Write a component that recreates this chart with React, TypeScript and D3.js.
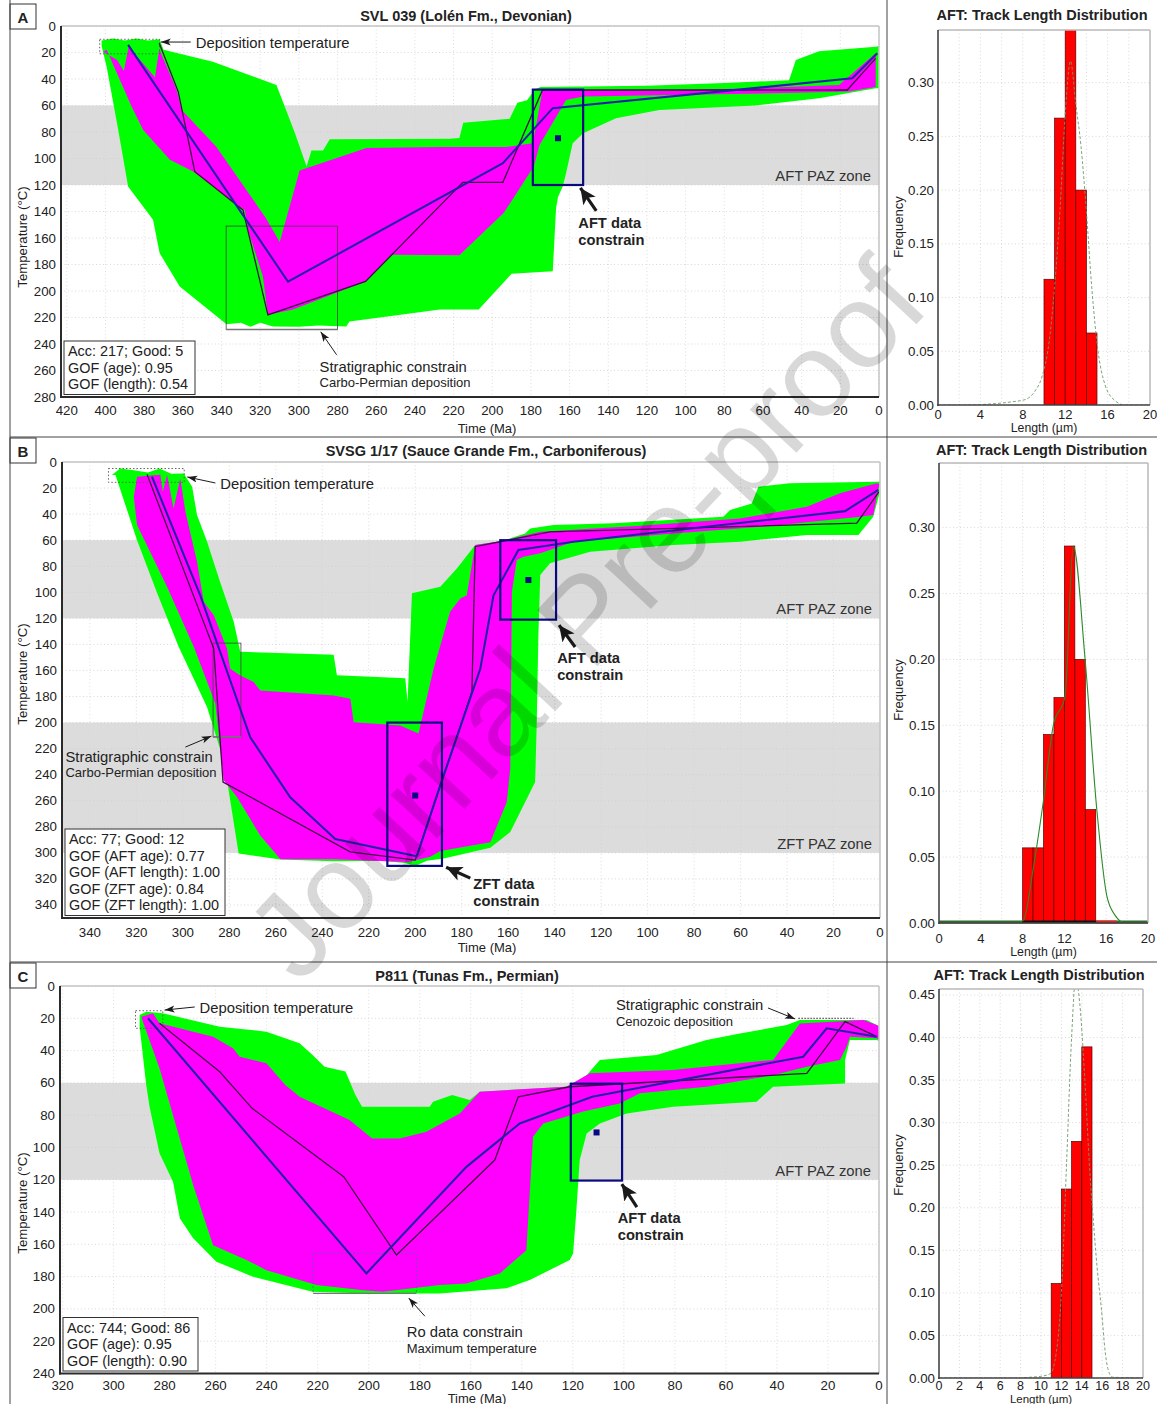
import React from "react";
import * as d3 from "d3";

type Pt = [number, number];
type Box = [number, number, number, number]; // t-left, t-right, T-top, T-bottom

const FONT = "'Liberation Sans', Arial, Helvetica, sans-serif";

// ================= Panel A : SVL 039 =================
const timeTicksA = [420, 400, 380, 360, 340, 320, 300, 280, 260, 240, 220, 200, 180, 160, 140, 120, 100, 80, 60, 40, 20, 0];
const tempTicksA = [0, 20, 40, 60, 80, 100, 120, 140, 160, 180, 200, 220, 240, 260, 280];
const greenA: Pt[] = [
  [402, 11], [396, 9.5], [390, 11], [384, 9.5], [378, 11], [372, 10], [370, 18], [344.5, 27], [311.6, 44.5],
  [302, 81], [296, 106], [293.5, 94], [287.5, 94], [284, 85.5], [222, 85], [217, 84.6], [215, 73],
  [191, 70], [187, 58], [182, 56], [178, 48], [175, 46], [120, 45], [80, 43], [46.5, 41], [43, 25.6],
  [31, 19], [1.7, 15.6], [0, 15],
  [0, 47], [1.7, 47], [31, 54.6], [63.7, 60], [113.6, 63.4], [136, 69.6], [153, 81], [158.4, 88.5],
  [161.8, 111], [163.5, 121], [166, 129], [167, 137.5], [168.7, 185], [190, 187], [207, 214], [227, 214],
  [273.8, 223], [275.5, 226.7], [290, 226], [300, 227], [313.4, 226.7], [320, 224], [325, 227], [330, 224],
  [337.4, 225], [361.6, 196.6], [372, 171.4], [375.4, 146.3], [388.3, 121.2], [393.4, 78.4],
  [399.4, 30.7], [402, 15],
];
const magentaA: Pt[] = [
  [401.2, 19.4], [394, 25.6], [390.5, 33.7], [388, 15.6], [374.4, 38.7], [372.2, 17.6], [363.3, 48],
  [360.7, 63.3], [342.8, 91], [317, 145], [309.9, 163], [299.6, 109], [265, 92], [227, 91.4], [193, 91.4],
  [179, 88.5], [174, 48.3], [106.7, 48.8], [51.7, 46.2], [20.7, 44.5], [1.7, 20.6],
  [1.7, 46], [15.5, 49.5], [55, 50.8], [153, 53.3], [161.8, 55.8], [175.6, 90], [178.5, 106], [194, 141],
  [217, 173], [252.3, 172.7], [265.5, 192.8], [303, 214], [316, 218], [318.6, 189], [326.3, 153.8],
  [328, 138.8], [354.7, 109.9], [366.7, 101], [380.5, 78.4], [386.5, 60.8], [399.4, 18],
];
const bestA: Pt[] = [[388.3, 14.3], [305.6, 193], [194.5, 103.5], [168.7, 62], [13.8, 39.5], [0.9, 20.6]];
const thinA: Pt[] = [
  [372.2, 13], [362.4, 49.5], [353.8, 110], [328.9, 138.8], [316, 218], [265.5, 192.8], [215.2, 118],
  [194.5, 118], [174, 48.3], [16.4, 48.3], [1.7, 24.4],
];
const aftBoxA: Box = [179, 153, 48, 120];
const aftPointA: Pt = [166, 84.7];
const depBoxA: Box = [403, 372, 10, 21];
const stratBoxA: Box = [337.6, 280, 151, 229];
const infoA = ["Acc: 217; Good: 5", "GOF (age): 0.95", "GOF (length): 0.54"];

// ================= Panel B : SVSG 1/17 =================
const timeTicksB = [340, 320, 300, 280, 260, 240, 220, 200, 180, 160, 140, 120, 100, 80, 60, 40, 20, 0];
const tempTicksB = [0, 20, 40, 60, 80, 100, 120, 140, 160, 180, 200, 220, 240, 260, 280, 300, 320, 340];
const greenB: Pt[] = [
  [330.5, 10], [327, 5], [321.8, 6.1], [315, 8], [310, 5], [305, 9], [299.6, 8.8], [296, 19], [293.9, 40.7],
  [289.6, 61], [284, 92], [278.1, 122.6], [275.3, 145.7], [235.1, 148], [233.7, 163.6], [204.3, 166],
  [203.3, 184], [201.4, 100.8], [189.2, 95.8], [182, 81.6], [174.2, 63.7], [162.7, 60.7], [152.7, 54.8],
  [150.5, 51], [140.5, 48.4], [114.7, 47], [67.4, 42], [64.5, 36.9], [55.2, 31.8], [52.3, 19], [38.7, 16.4],
  [1.4, 15.2], [0, 15],
  [0.4, 25.3], [2.9, 42], [9.3, 56], [31.5, 56], [60.2, 61.2], [88.9, 63.7], [124.7, 68.8], [142, 77.8],
  [146.2, 86.7], [147, 132.9], [147.7, 199.5], [148.4, 245.6], [159.1, 284], [167.7, 296], [187.8, 304.4],
  [195, 306], [200, 310], [204.3, 307.7], [215, 306], [235.1, 306.4], [258, 305.1], [276, 300.5],
  [281, 244], [284, 220], [289.6, 188], [301.8, 141.8], [311, 101], [319.7, 60], [329, 10],
];
const magentaB: Pt[] = [
  [321.1, 26.6], [319.7, 11.3], [309.7, 9.8], [308.6, 22.8], [306.8, 9.8], [304, 35.6], [301.1, 12.6],
  [298.9, 38.2], [293.9, 76.6], [291, 107.3], [286.7, 117.6], [281, 143.2], [279.6, 158.6], [275.3, 163.8],
  [269.5, 168.9], [266.7, 175.3], [235.1, 179.2], [227.9, 181.8], [226.5, 199.7], [206.5, 202.2],
  [198.6, 208.4], [192.1, 158.6], [185, 115], [180.6, 104.8], [177.8, 102.3], [174.2, 63.7], [162.7, 60.7],
  [146.2, 53.6], [103.2, 49], [60.2, 43.4], [31.5, 34.4], [17.2, 24], [1.4, 16.4], [0, 17],
  [0.7, 20.3], [2.9, 40.7], [8.6, 42], [45.9, 49], [88.9, 54.8], [131.9, 61.2], [146.2, 70.1], [153.4, 72.8],
  [156.3, 75.3], [158.4, 99.6], [159.1, 235.4], [160.6, 261], [167.7, 291.8], [189.2, 298.5], [193.5, 303],
  [203, 307], [235, 305], [258, 305], [266.7, 286.7], [276.7, 257.2], [282.4, 244.2], [286, 185.3],
  [295.3, 141.8], [306.8, 95.8], [319.7, 48.4],
];
const bestB: Pt[] = [
  [313.3, 11.3], [292.5, 102.3], [271, 211.3], [253.8, 257.4], [234.4, 289.4], [199.3, 302.7], [189.2, 248],
  [172, 158.7], [166.3, 102.3], [155.6, 67.6], [131.9, 61.2], [15, 37.7], [0.7, 21.4],
];
const thinB: Pt[] = [
  [315.4, 9.5], [286.7, 143.2], [282.7, 245.6], [228, 299.2], [200, 305.6], [175.6, 176.4], [174.2, 65],
  [142, 53.6], [10, 47], [0.4, 22.8],
];
const zftBoxB: Box = [212, 188.5, 200, 310];
const zftPointB: Pt = [200, 256];
const aftBoxB: Box = [163.4, 139.4, 60, 121];
const aftPointB: Pt = [151.3, 90.6];
const depBoxB: Box = [332, 299.4, 5, 15.6];
const stratBoxB: Box = [287, 275, 139, 211];
const infoB = ["Acc: 77; Good: 12", "GOF (AFT age): 0.77", "GOF (AFT length): 1.00", "GOF (ZFT age): 0.84", "GOF (ZFT length): 1.00"];

// ================= Panel C : P811 =================
const timeTicksC = [320, 300, 280, 260, 240, 220, 200, 180, 160, 140, 120, 100, 80, 60, 40, 20, 0];
const tempTicksC = [0, 20, 40, 60, 80, 100, 120, 140, 160, 180, 200, 220, 240];
const greenC: Pt[] = [
  [289.8, 18], [287.2, 15.9], [280.7, 16.9], [258.4, 25.2], [240.1, 28.3], [227.1, 35.5], [222, 42.8],
  [217.3, 50], [209.1, 53], [205.2, 67.5], [202.6, 74.8], [176.1, 74.8], [174.8, 71.7], [167.3, 67.5],
  [160.4, 70.6], [156.5, 65.5],
  [122.5, 62.4], [119.9, 60.4], [114.6, 55.2], [109.4, 45.8], [87.2, 42.8], [67.6, 33.5], [54.5, 29.4],
  [36.2, 24.2], [31, 21.1], [4.8, 21.1], [0.9, 24.2], [0, 25],
  [0, 34], [0.9, 33.5], [11.4, 33.5], [13.3, 45.8], [13.3, 60.4], [41.5, 62.4], [48, 71.7], [80.7, 74.8],
  [98.9, 79], [109.4, 85.1], [114.6, 91.3], [117.3, 107.8], [118.6, 138.8], [119.9, 165.6], [121.2, 169.7],
  [136.9, 182.1], [146, 187.2], [172.2, 190.4], [200.9, 190.4], [222, 189.4], [245.4, 180],
  [259.7, 170.8], [268.8, 156.3], [274, 144], [276.7, 121.2], [282, 103.6], [285.9, 74.8], [287.2, 61.3],
  [289.8, 25.2],
];
const magentaC: Pt[] = [
  [289.1, 19], [284.6, 16.9], [282, 23], [261, 31.4], [253.2, 38.6], [250.6, 43.8], [240.1, 47.9],
  [232.7, 61.3], [227.1, 68.6], [207.5, 83], [198.7, 94.4], [187.8, 94.4], [177.4, 90.3], [164.3, 78.9],
  [156.5, 65.5], [122.5, 62.4], [113.3, 54.1], [80.7, 52], [41.5, 45.8], [31, 23.2], [6.1, 21.1],
  [0.9, 24.2], [0, 25],
  [0, 33], [0.9, 32.4], [11.4, 31.4], [12.7, 37.6], [15.3, 45.8], [28.3, 50], [41.5, 55.2], [67.6, 62.4],
  [93.7, 66.5], [101.6, 72.7], [115.9, 77.8], [131.6, 85.1], [135.6, 93.4], [138.2, 163.6], [148.6, 178],
  [161.7, 184.2], [172.2, 185.2], [194.4, 189.4], [202.2, 188.4], [220.5, 185.2], [227.1, 182.1],
  [240.1, 176], [247.9, 169.7], [261, 160.5], [268.8, 123.3], [276.7, 80], [282, 51], [288.5, 22.1],
];
const bestC: Pt[] = [
  [286.5, 20], [200.9, 178], [161.7, 112], [140.8, 85.1], [112.4, 68.6], [29.7, 43.8], [20.5, 26.2], [0.9, 31.4],
];
const thinC: Pt[] = [
  [282, 23], [258.4, 53.1], [245.7, 75.8], [209.8, 118.1], [189.1, 166.6], [150.6, 107.8], [141.4, 68.6],
  [121.2, 62.4], [28.3, 54.1], [13.3, 22.1], [0.9, 31.4],
];
const aftBoxC: Box = [120.8, 100.7, 60.5, 120.5];
const aftPointC: Pt = [110.7, 90.7];
const depBoxC: Box = [291.4, 280.7, 15.3, 26.2];
const roBoxC: Box = [221.8, 181.3, 165.6, 190.4];
const stratLineC: Pt[] = [[31.6, 20], [10, 20]];
const infoC = ["Acc: 744; Good: 86", "GOF (age): 0.95", "GOF (length): 0.90"];

// ================= Histograms =================
const lengthTicksAB = [0, 4, 8, 12, 16, 20];
const lengthTicksC = [0, 2, 4, 6, 8, 10, 12, 14, 16, 18, 20];
const freqTicksAB = [0, 0.05, 0.1, 0.15, 0.2, 0.25, 0.3];
const freqTicksC = [0, 0.05, 0.1, 0.15, 0.2, 0.25, 0.3, 0.35, 0.4, 0.45];
const gridLengths = [2, 4, 6, 8, 10, 12, 14, 16, 18];

const binsA = [10, 11, 12, 13, 14];
const freqA = [0.117, 0.267, 0.35, 0.2, 0.067];
const curveA: Pt[] = [
  [0, 0], [3, 0], [5, 0.001], [7, 0.003], [8.2, 0.005], [9.15, 0.013], [9.8, 0.026], [10.5, 0.06], [11, 0.11],
  [11.5, 0.18], [12, 0.27], [12.5, 0.32], [13, 0.28], [13.5, 0.24], [14, 0.18], [14.5, 0.11], [15.1, 0.05],
  [15.75, 0.019], [16.7, 0.004], [17.6, 0], [20, 0],
];
const binsB = [8, 9, 10, 11, 12, 13, 14];
const freqB = [0.057, 0.057, 0.143, 0.171, 0.286, 0.2, 0.086];
const curveB: Pt[] = [
  [0, 0], [7.4, 0], [8.07, 0.002], [9.03, 0.042], [9.98, 0.092], [10.94, 0.15], [12.06, 0.172], [12.85, 0.286],
  [13.97, 0.201], [15.09, 0.087], [16.05, 0.021], [16.84, 0.006], [17.8, 0], [20, 0],
];
const binsC = [11, 12, 13, 14];
const freqC = [0.111, 0.222, 0.278, 0.389];
const curveC: Pt[] = [
  [0, 0], [8, 0], [9, 0.001], [10, 0.002], [10.9, 0.005], [11.5, 0.03], [12, 0.1], [12.5, 0.25], [13, 0.4],
  [13.4, 0.47], [13.8, 0.44], [14.3, 0.35], [14.8, 0.24], [15.1, 0.19], [15.5, 0.13], [15.93, 0.08],
  [16.3, 0.03], [16.6, 0.009], [17, 0.001], [20, 0],
];

// ================= configs (layout) =================
const panelA = {
  id: "A", letterY: 4, title: "SVL 039 (Lolén Fm., Devonian)", titleX: 466, titleY: 16,
  x0: 61, x1: 879, tMax: 423, y0: 26, y1: 397, TMax: 280, tickY: 410,
  timeTicks: timeTicksA, tempTicks: tempTicksA,
  zones: [{ from: 60, to: 120, label: "AFT PAZ zone" }],
  green: greenA, magenta: magentaA, best: bestA, thin: thinA,
  dataBoxes: [{ box: aftBoxA, point: aftPointA }],
  depBox: depBoxA, stratBox: stratBoxA, roBox: null as Box | null, stratLine: null as Pt[] | null,
  info: infoA, infoW: 131, yLabelY: 237, timeLabel: [487, 428],
  anns: [
    { text: "Deposition temperature", t: 353.3, T: 12.8, size: 14.8 },
    { text: "Stratigraphic constrain", t: 289.3, T: 257.2, size: 14.8 },
    { text: "Carbo-Permian deposition", t: 289.3, T: 269.2, size: 13 },
    { text: "AFT data", t: 155.5, T: 148.6, size: 14.7, bold: true },
    { text: "constrain", t: 155.5, T: 161.4, size: 14.7, bold: true },
  ],
  arrows: [
    { from: [355.9, 12.1], to: [371.4, 12.1], heavy: false },
    { from: [280.5, 248.1], to: [288.7, 230.8], heavy: false },
    { from: [146.2, 139.5], to: [154.4, 122.2], heavy: true },
  ],
};

const panelB = {
  id: "B", letterY: 438, title: "SVSG 1/17 (Sauce Grande Fm., Carboniferous)", titleX: 486, titleY: 451,
  x0: 62, x1: 880, tMax: 352, y0: 462, y1: 918, TMax: 350, tickY: 932,
  timeTicks: timeTicksB, tempTicks: tempTicksB,
  zones: [{ from: 60, to: 120, label: "AFT PAZ zone" }, { from: 200, to: 300, label: "ZFT PAZ zone" }],
  green: greenB, magenta: magentaB, best: bestB, thin: thinB,
  dataBoxes: [{ box: zftBoxB, point: zftPointB }, { box: aftBoxB, point: aftPointB }],
  depBox: depBoxB, stratBox: stratBoxB, roBox: null as Box | null, stratLine: null as Pt[] | null,
  info: infoB, infoW: 160, yLabelY: 674, timeLabel: [487, 947],
  anns: [
    { text: "Deposition temperature", t: 283.9, T: 16.9, size: 14.8 },
    { text: "Stratigraphic constrain", t: 350.5, T: 226.5, size: 14.8 },
    { text: "Carbo-Permian deposition", t: 350.5, T: 238, size: 13 },
    { text: "AFT data", t: 138.9, T: 150.5, size: 14.7, bold: true },
    { text: "constrain", t: 138.9, T: 163.6, size: 14.7, bold: true },
    { text: "ZFT data", t: 175, T: 324, size: 14.7, bold: true },
    { text: "constrain", t: 175, T: 337, size: 14.7, bold: true },
  ],
  arrows: [
    { from: [286, 16.1], to: [298.1, 11.5], heavy: false },
    { from: [298.9, 218.8], to: [287.7, 210.4], heavy: false },
    { from: [131.2, 142], to: [138.1, 125.2], heavy: true },
    { from: [176.3, 319.4], to: [186.7, 311], heavy: true },
  ],
};

const panelC = {
  id: "C", letterY: 963, title: "P811 (Tunas Fm., Permian)", titleX: 467, titleY: 976,
  x0: 60, x1: 879, tMax: 321, y0: 986, y1: 1373.5, TMax: 240, tickY: 1385,
  timeTicks: timeTicksC, tempTicks: tempTicksC,
  zones: [{ from: 60, to: 120, label: "AFT PAZ zone" }],
  green: greenC, magenta: magentaC, best: bestC, thin: thinC,
  dataBoxes: [{ box: aftBoxC, point: aftPointC }],
  depBox: depBoxC, stratBox: null as Box | null, roBox: roBoxC, stratLine: stratLineC,
  info: infoC, infoW: 135, yLabelY: 1203, timeLabel: [477, 1398],
  anns: [
    { text: "Deposition temperature", t: 266.3, T: 13.6, size: 14.8 },
    { text: "Ro data constrain", t: 185.1, T: 214.4, size: 14.8 },
    { text: "Maximum temperature", t: 185.1, T: 224.3, size: 13 },
    { text: "Stratigraphic constrain", t: 103.1, T: 11.8, size: 14.8 },
    { text: "Cenozoic deposition", t: 103.1, T: 21.7, size: 13 },
    { text: "AFT data", t: 102.4, T: 143.7, size: 14.7, bold: true },
    { text: "constrain", t: 102.4, T: 154.3, size: 14.7, bold: true },
  ],
  arrows: [
    { from: [268.2, 13], to: [280, 14.9], heavy: false },
    { from: [178, 204.5], to: [184.3, 193.3], heavy: false },
    { from: [43.5, 13.6], to: [32.9, 20.4], heavy: false },
    { from: [94.9, 136.9], to: [100.8, 122.7], heavy: true },
  ],
};

const histA = {
  id: "hA", x0: 938, x1: 1150, y0: 30, y1: 405, fMax: 0.349, titleY: 15, lenTicks: lengthTicksAB,
  fTicks: freqTicksAB, bins: binsA, freq: freqA, curve: curveA, dashed: true, baseline: false, freqLabelY: 227,
  tickY: 414, labelY: 427.5, tickSize: 13, labelSize: 12.3,
};
const histB = {
  id: "hB", x0: 939, x1: 1148, y0: 463, y1: 923, fMax: 0.349, titleY: 450, lenTicks: lengthTicksAB,
  fTicks: freqTicksAB, bins: binsB, freq: freqB, curve: curveB, dashed: false, baseline: true, freqLabelY: 690,
  tickY: 938.5, labelY: 952, tickSize: 13, labelSize: 12.3,
};
const histC = {
  id: "hC", x0: 939, x1: 1143, y0: 989, y1: 1378, fMax: 0.457, titleY: 975, lenTicks: lengthTicksC,
  fTicks: freqTicksC, bins: binsC, freq: freqC, curve: curveC, dashed: true, baseline: false, freqLabelY: 1165,
  tickY: 1386, labelY: 1398.5, tickSize: 12.5, labelSize: 11.5,
};

// ================= components =================
function ThermalPanel({ c }: { c: typeof panelA }) {
  const x = d3.scaleLinear().domain([c.tMax, 0]).range([c.x0, c.x1]);
  const y = d3.scaleLinear().domain([0, c.TMax]).range([c.y0, c.y1]);
  const line = d3.line<Pt>().x((d) => x(d[0])).y((d) => y(d[1]));
  const clipId = `clip-${c.id}`;
  const rectOf = (b: Box) => ({
    x: x(b[0]), y: y(b[2]), width: x(b[1]) - x(b[0]), height: y(b[3]) - y(b[2]),
  });
  const lineH = 16.5;
  const infoH = c.info.length * lineH + 4;
  const infoX = c.x0 + 3;
  const infoY = c.y1 - 2.5 - infoH;
  return (
    <g>
      <defs>
        <clipPath id={clipId}>
          <rect x={c.x0} y={c.y0} width={c.x1 - c.x0} height={c.y1 - c.y0} />
        </clipPath>
      </defs>
      <rect x={10} y={c.letterY} width={26} height={25} fill="#fff" stroke="#333" strokeWidth={1} />
      <text x={23} y={c.letterY + 13} textAnchor="middle" dominantBaseline="central" fontWeight="bold" fontSize={15} fill="#222">{c.id}</text>
      <text x={c.titleX} y={c.titleY} textAnchor="middle" dominantBaseline="central" fontWeight="bold" fontSize={14.5} fill="#222">{c.title}</text>
      {c.zones.map((z, i) => (
        <rect key={i} x={c.x0} y={y(z.from)} width={c.x1 - c.x0} height={y(z.to) - y(z.from)} fill="#dcdcdc" />
      ))}
      {c.tempTicks.map((T) => (
        <line key={"gy" + T} x1={c.x0} x2={c.x1} y1={y(T)} y2={y(T)} stroke="#cfcfcf" strokeWidth={0.8} strokeDasharray="1,2.5" />
      ))}
      {c.timeTicks.map((t) => (
        <line key={"gx" + t} x1={x(t)} x2={x(t)} y1={c.y0} y2={c.y1} stroke="#d6d6d6" strokeWidth={0.8} strokeDasharray="1,2.5" />
      ))}
      <g clipPath={`url(#${clipId})`}>
        <path d={line(c.green) + "Z"} fill="#00ff00" />
        <path d={line(c.magenta) + "Z"} fill="#ff00ff" />
      </g>
      {c.zones.map((z, i) => (
        <text key={"zl" + i} x={c.x1 - 8} y={y(z.to) - 9} textAnchor="end" dominantBaseline="central" fontSize={14.8} fill="#333">{z.label}</text>
      ))}
      {c.depBox && (
        <rect {...rectOf(c.depBox)} fill="none" stroke="#555" strokeWidth={0.9} strokeDasharray="1.5,2" />
      )}
      {c.stratBox && (
        <g>
          <rect {...rectOf(c.stratBox)} fill="none" stroke="#444" strokeWidth={0.8} />
          <line x1={x(c.stratBox[0])} x2={x(c.stratBox[1])} y1={y(c.stratBox[3])} y2={y(c.stratBox[3])} stroke="#777" strokeWidth={1.6} />
        </g>
      )}
      {c.roBox && (
        <g>
          <rect {...rectOf(c.roBox)} fill="none" stroke="#5a5aa8" strokeWidth={0.8} strokeDasharray="2,2" />
          <line x1={x(c.roBox[0])} x2={x(c.roBox[1])} y1={y(c.roBox[3])} y2={y(c.roBox[3])} stroke="#777" strokeWidth={1.4} />
        </g>
      )}
      {c.stratLine && (
        <path d={line(c.stratLine) || ""} fill="none" stroke="#333" strokeWidth={1} strokeDasharray="1.5,1.5" />
      )}
      <g clipPath={`url(#${clipId})`}>
        <path d={line(c.thin) || ""} fill="none" stroke="#3d0d45" strokeWidth={1.3} />
        <path d={line(c.best) || ""} fill="none" stroke="#2222a8" strokeWidth={2.1} />
      </g>
      {c.dataBoxes.map((d, i) => (
        <g key={"db" + i}>
          <rect {...rectOf(d.box)} fill="none" stroke="#0a0a80" strokeWidth={2.2} />
          <rect x={x(d.point[0]) - 3} y={y(d.point[1]) - 3} width={6} height={6} fill="#0a0a80" />
        </g>
      ))}
      <line x1={c.x0} x2={c.x1} y1={c.y0} y2={c.y0} stroke="#c4c4c4" strokeWidth={1.5} />
      <line x1={c.x1} x2={c.x1} y1={c.y0} y2={c.y1} stroke="#c4c4c4" strokeWidth={1.5} />
      <line x1={c.x0} x2={c.x0} y1={c.y0} y2={c.y1 + 1} stroke="#2a2a2a" strokeWidth={2} />
      <line x1={c.x0 - 1} x2={c.x1} y1={c.y1} y2={c.y1} stroke="#2a2a2a" strokeWidth={2} />
      {c.tempTicks.map((T) => (
        <text key={"ty" + T} x={c.x0 - 5} y={y(T)} textAnchor="end" dominantBaseline="central" fontSize={13.3} fill="#222">{T}</text>
      ))}
      {c.timeTicks.map((t) => (
        <text key={"tx" + t} x={x(t)} y={c.tickY} textAnchor="middle" dominantBaseline="central" fontSize={13.3} fill="#222">{t}</text>
      ))}
      <text x={c.timeLabel[0]} y={c.timeLabel[1]} textAnchor="middle" dominantBaseline="central" fontSize={13} fill="#222">Time (Ma)</text>
      <text transform={`translate(22,${c.yLabelY}) rotate(-90)`} textAnchor="middle" dominantBaseline="central" fontSize={13.2} fill="#222">Temperature (°C)</text>
      {c.anns.map((a: any, i: number) => (
        <text key={"an" + i} x={x(a.t)} y={y(a.T)} dominantBaseline="central" fontSize={a.size} fontWeight={a.bold ? "bold" : "normal"} fill="#222">{a.text}</text>
      ))}
      {c.arrows.map((a: any, i: number) => (
        <line key={"ar" + i} x1={x(a.from[0])} y1={y(a.from[1])} x2={x(a.to[0])} y2={y(a.to[1])}
          stroke="#1a1a1a" strokeWidth={a.heavy ? 3.2 : 1} markerEnd={a.heavy ? "url(#arrowBold)" : "url(#arrowThin)"} />
      ))}
      <rect x={infoX} y={infoY} width={c.infoW} height={infoH} fill="#fff" stroke="#333" strokeWidth={1} />
      {c.info.map((s, i) => (
        <text key={"in" + i} x={infoX + 4} y={infoY + 2 + lineH / 2 + i * lineH} dominantBaseline="central" fontSize={14.4} fill="#222">{s}</text>
      ))}
    </g>
  );
}

function Histogram({ c }: { c: typeof histA }) {
  const x = d3.scaleLinear().domain([0, 20]).range([c.x0, c.x1]);
  const y = d3.scaleLinear().domain([0, c.fMax]).range([c.y1, c.y0]);
  const line = d3.line<Pt>().x((d) => x(d[0])).y((d) => y(d[1])).curve(d3.curveMonotoneX);
  const fmt = d3.format(".2f");
  const clipId = `clip-${c.id}`;
  return (
    <g>
      <defs>
        <clipPath id={clipId}>
          <rect x={c.x0} y={c.y0} width={c.x1 - c.x0} height={c.y1 - c.y0} />
        </clipPath>
      </defs>
      <text x={(c.x0 + c.x1) / 2 - 2} y={c.titleY} textAnchor="middle" dominantBaseline="central" fontWeight="bold" fontSize={14.5} fill="#222">AFT: Track Length Distribution</text>
      {gridLengths.map((L) => (
        <line key={"gx" + L} x1={x(L)} x2={x(L)} y1={c.y0} y2={c.y1} stroke="#cfcfcf" strokeWidth={0.8} strokeDasharray="1,2.5" />
      ))}
      {c.fTicks.map((f) => (
        <line key={"gy" + f} x1={c.x0} x2={c.x1} y1={y(f)} y2={y(f)} stroke="#cfcfcf" strokeWidth={0.8} strokeDasharray="1,2.5" />
      ))}
      {c.baseline && (
        <g>
          <line x1={x(0)} x2={x(20)} y1={y(0) - 1} y2={y(0) - 1} stroke="#2f6a2f" strokeWidth={3} />
          <line x1={x(15)} x2={x(17)} y1={y(0) - 1} y2={y(0) - 1} stroke="#e02020" strokeWidth={3} />
        </g>
      )}
      <g clipPath={`url(#${clipId})`}>
        {c.bins.map((b, i) => (
          <rect key={"b" + i} x={x(b)} y={y(c.freq[i])} width={x(b + 1) - x(b)} height={y(0) - y(c.freq[i])}
            fill="#ff0000" stroke="#5a0000" strokeWidth={0.7} />
        ))}
        {c.baseline && (
          <line x1={x(c.bins[0])} x2={x(c.bins[c.bins.length - 1] + 1)} y1={y(0) - 1} y2={y(0) - 1} stroke="#111" strokeWidth={3} />
        )}
        <path d={line(c.curve) || ""} fill="none" stroke={c.dashed ? "#6d9a6d" : "#2a8a2a"} strokeWidth={c.dashed ? 0.9 : 1.1}
          strokeDasharray={c.dashed ? "3,2" : undefined} />
      </g>
      <line x1={c.x0} x2={c.x1} y1={c.y0} y2={c.y0} stroke="#b8b8b8" strokeWidth={1.5} />
      <line x1={c.x1} x2={c.x1} y1={c.y0} y2={c.y1} stroke="#b8b8b8" strokeWidth={1.5} />
      <line x1={c.x0} x2={c.x0} y1={c.y0} y2={c.y1 + 1} stroke="#444" strokeWidth={1.6} />
      <line x1={c.x0 - 1} x2={c.x1} y1={c.y1} y2={c.y1} stroke="#444" strokeWidth={1.6} />
      {c.fTicks.map((f) => (
        <text key={"ty" + f} x={c.x0 - 4} y={y(f)} textAnchor="end" dominantBaseline="central" fontSize={13.3} fill="#222">{fmt(f)}</text>
      ))}
      {c.lenTicks.map((L) => (
        <text key={"tx" + L} x={x(L)} y={c.tickY} textAnchor="middle" dominantBaseline="central" fontSize={c.tickSize} fill="#222">{L}</text>
      ))}
      <text x={(c.x0 + c.x1) / 2} y={c.labelY} textAnchor="middle" dominantBaseline="central" fontSize={c.labelSize} fill="#222">Length (µm)</text>
      <text transform={`translate(898,${c.freqLabelY}) rotate(-90)`} textAnchor="middle" dominantBaseline="central" fontSize={13} fill="#222">Frequency</text>
    </g>
  );
}

export default function App() {
  return (
    <svg width={1157} height={1404} style={{ position: "absolute", left: 0, top: 0, background: "#fff" }} fontFamily={FONT}>
      <rect x={0} y={0} width={1157} height={1404} fill="#fff" />
      <defs>
        <marker id="arrowThin" markerUnits="userSpaceOnUse" markerWidth={11} markerHeight={8} refX={10} refY={3.5} orient="auto">
          <path d="M0,0 L10,3.5 L0,7 L2.5,3.5 Z" fill="#1a1a1a" />
        </marker>
        <marker id="arrowBold" markerUnits="userSpaceOnUse" markerWidth={18} markerHeight={16} refX={16} refY={7.5} orient="auto">
          <path d="M0,0 L16,7.5 L0,15 L4,7.5 Z" fill="#1a1a1a" />
        </marker>
      </defs>
      <ThermalPanel c={panelA} />
      <ThermalPanel c={panelB} />
      <ThermalPanel c={panelC} />
      <Histogram c={histA} />
      <Histogram c={histB} />
      <Histogram c={histC} />
      <line x1={887} x2={887} y1={0} y2={1404} stroke="#444" strokeWidth={1} />
      <line x1={10} x2={10} y1={0} y2={1404} stroke="#444" strokeWidth={1} />
      <line x1={10} x2={1157} y1={437} y2={437} stroke="#444" strokeWidth={1} />
      <line x1={10} x2={1157} y1={962} y2={962} stroke="#444" strokeWidth={1} />
      <text transform="translate(585,618) rotate(-47)" textAnchor="middle" dominantBaseline="central" fontSize={120} fill="#000" opacity={0.15}>Journal Pre-proof</text>
    </svg>
  );
}
